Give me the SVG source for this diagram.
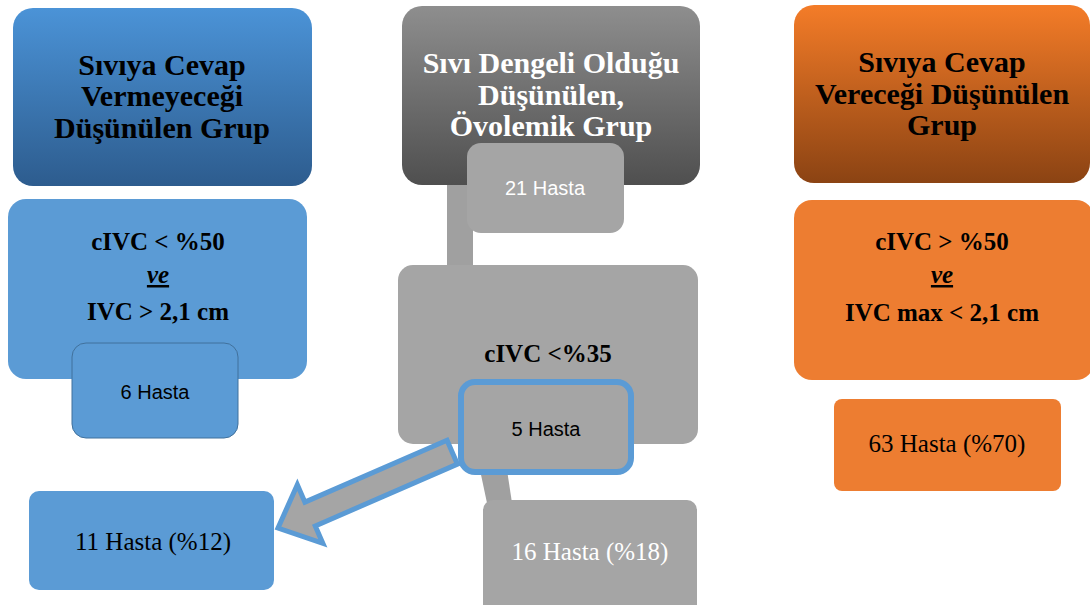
<svg xmlns="http://www.w3.org/2000/svg" width="1090" height="605" viewBox="0 0 1090 605">
<defs>
<linearGradient id="gBlue" x1="0" y1="0" x2="0" y2="1"><stop offset="0" stop-color="#4b93d7"/><stop offset="1" stop-color="#2d5c8e"/></linearGradient>
<linearGradient id="gGray" x1="0" y1="0" x2="0" y2="1"><stop offset="0" stop-color="#8e8e8e"/><stop offset="1" stop-color="#4f4f4f"/></linearGradient>
<linearGradient id="gOrange" x1="0" y1="0" x2="0" y2="1"><stop offset="0" stop-color="#f47c28"/><stop offset="1" stop-color="#8b4313"/></linearGradient>
</defs>
<style>
.hd{font-family:"Liberation Serif",serif;font-weight:bold;font-size:30px;text-anchor:middle}
.cond{font-family:"Liberation Serif",serif;font-weight:bold;font-size:25px;text-anchor:middle;fill:#000}
.ve{font-style:italic;text-decoration:underline}
.sans{font-family:"Liberation Sans",sans-serif;font-size:20px;text-anchor:middle}
.ser{font-family:"Liberation Serif",serif;font-size:25px;text-anchor:middle}
.blue{fill:#5b9bd5}
.gray{fill:#a5a5a5}
.orange{fill:#ed7d31}
</style>
<rect width="1090" height="605" fill="#ffffff"/>
<g id="connectors">
<rect x="447" y="180" width="26" height="92" fill="#a0a0a0"/>
<polygon points="480,470 507,470 512,503 487,503" fill="#a0a0a0"/>
</g>
<g id="node-blue-header">
<rect x="13" y="8" width="299" height="178" rx="20" fill="url(#gBlue)"/>
<text class="hd" x="162" y="75" fill="#000">Sıvıya Cevap</text>
<text class="hd" x="162" y="106" fill="#000">Vermeyeceği</text>
<text class="hd" x="162" y="138" fill="#000">Düşünülen Grup</text>
</g>
<g id="node-gray-header">
<rect x="402" y="6" width="298" height="179" rx="20" fill="url(#gGray)"/>
<text class="hd" x="551" y="73" fill="#fff">Sıvı Dengeli Olduğu</text>
<text class="hd" x="551" y="105" fill="#fff">Düşünülen,</text>
<text class="hd" x="551" y="136" fill="#fff">Övolemik Grup</text>
</g>
<g id="node-orange-header">
<rect x="794" y="5" width="296" height="178" rx="20" fill="url(#gOrange)"/>
<text class="hd" x="942" y="72" fill="#000">Sıvıya Cevap</text>
<text class="hd" x="942" y="104" fill="#000">Vereceği Düşünülen</text>
<text class="hd" x="942" y="135" fill="#000">Grup</text>
</g>
<g id="node-21">
<rect x="467" y="143" width="157" height="90" rx="14" class="gray"/>
<text class="sans" x="545" y="195" fill="#fff">21 Hasta</text>
</g>
<g id="node-blue-cond">
<rect x="8" y="199" width="299" height="180" rx="18" class="blue"/>
<text class="cond" x="158" y="250">cIVC &lt; %50</text>
<text class="cond ve" x="158" y="283">ve</text>
<text class="cond" x="158" y="320">IVC &gt; 2,1 cm</text>
</g>
<g id="node-6">
<rect x="72" y="343" width="166" height="95" rx="14" class="blue" stroke="#41719c" stroke-width="1"/>
<text class="sans" x="155" y="399" fill="#000">6 Hasta</text>
</g>
<g id="node-gray-cond">
<rect x="398" y="265" width="300" height="179" rx="15" class="gray"/>
<text class="cond" x="548" y="362">cIVC &lt;%35</text>
</g>
<g id="arrow">
<path d="M0,0 L35,-32 L35,-13 L190,-13 L190,13 L35,13 L35,32 Z" transform="translate(278,528) rotate(-23.5)" fill="#a5a5a5" stroke="#5b9bd5" stroke-width="5" stroke-linejoin="miter"/>
</g>
<g id="node-5">
<rect x="461" y="382" width="170" height="90" rx="14" class="gray" stroke="#5b9bd5" stroke-width="6"/>
<text class="sans" x="546" y="436" fill="#000">5 Hasta</text>
</g>
<g id="node-16">
<rect x="483" y="500" width="214" height="115" rx="10" class="gray"/>
<text class="ser" x="590" y="560" fill="#fff">16 Hasta (%18)</text>
</g>
<g id="node-11">
<rect x="29" y="491" width="245" height="99" rx="10" class="blue"/>
<text class="ser" x="153" y="550" fill="#000">11 Hasta (%12)</text>
</g>
<g id="node-orange-cond">
<rect x="794" y="200" width="300" height="180" rx="18" class="orange"/>
<text class="cond" x="942" y="250">cIVC &gt; %50</text>
<text class="cond ve" x="942" y="283">ve</text>
<text class="cond" x="942" y="321">IVC max &lt; 2,1 cm</text>
</g>
<g id="node-63">
<rect x="834" y="399" width="227" height="92" rx="8" class="orange"/>
<text class="ser" x="947" y="452" fill="#000">63 Hasta (%70)</text>
</g>
</svg>
